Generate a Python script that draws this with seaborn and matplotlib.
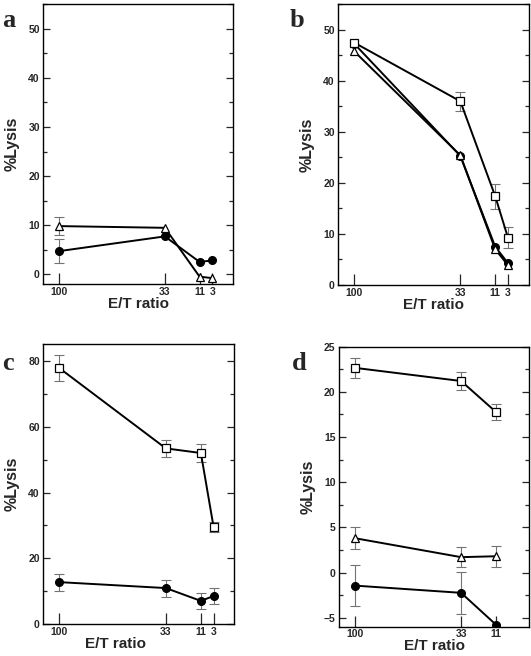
import matplotlib
matplotlib.use("Agg")
import matplotlib.pyplot as plt
import seaborn as sns
import numpy as np
from matplotlib.ticker import MultipleLocator

sns.set_style("ticks")
plt.rcParams["font.family"] = ["Liberation Sans", "DejaVu Sans"]
plt.rcParams["font.weight"] = "bold"

et_ratio = [100, 33, 11, 3]
et_ratio_d = [100, 33, 11]
et_labels = ["100", "33", "11", "3"]

# panel a
a_tri = [9.8, 9.45, -0.5, -0.8]
a_tri_err = [1.9, np.nan, np.nan, np.nan]
a_dot = [4.7, 7.7, 2.5, 2.8]
a_dot_err = [2.4, np.nan, np.nan, np.nan]

# panel b
b_sq = [47.5, 36.0, 17.4, 9.3]
b_sq_err = [np.nan, 1.85, 2.45, 2.0]
b_tri = [45.8, 25.4, 7.0, 3.9]
b_dot = [47.3, 25.3, 7.5, 4.3]

# panel c
c_sq = [77.8, 53.4, 52.0, 29.5]
c_sq_err = [3.9, 2.6, 2.6, 1.5]
c_dot = [12.8, 11.0, 7.1, 8.6]
c_dot_err = [2.55, 2.6, 2.5, 2.5]

# panel d
d_sq = [22.66, 21.2, 17.77]
d_sq_err = [1.08, 1.0, 0.85]
d_tri = [3.8, 1.7, 1.8]
d_tri_err = [1.2, 1.13, 1.17]
d_dot = [-1.45, -2.25, -5.78]
d_dot_err = [2.3, 2.34, np.nan]

W, H = 531, 656
fig = plt.figure(figsize=(W / 100, H / 100), dpi=100)


def make_ax(left, right, top, bottom):
    return fig.add_axes([left / W, (H - bottom) / H, (right - left) / W, (bottom - top) / H])


def draw_series(ax, x, y, marker, filled, err=None, z=3):
    if err is not None:
        ax.errorbar(x, y, yerr=err, fmt="none", ecolor="0.45", elinewidth=0.8,
                    capsize=3.6, capthick=0.8, zorder=1)
    sns.lineplot(x=x, y=y, ax=ax, color="black", linewidth=1.4, marker=marker,
                 markersize=5.4 if marker != "o" else 5.6,
                 markerfacecolor="black" if filled else "white",
                 markeredgecolor="black", markeredgewidth=0.9, zorder=z)


def style_ax(ax, ylim, major, minor, xt, xlabel_x=0.5):
    ax.set_xlim(110, -10)
    ax.set_ylim(*ylim)
    ax.set_xticks(xt)
    ax.set_xticklabels(et_labels[:len(xt)])
    ax.yaxis.set_major_locator(MultipleLocator(major))
    ax.yaxis.set_minor_locator(MultipleLocator(minor))
    ax.tick_params(axis="y", which="both", direction="in", left=True, right=True,
                   labelsize=7.5, pad=2.5, width=0.9)
    ax.tick_params(axis="y", which="major", length=5)
    ax.tick_params(axis="y", which="minor", length=3)
    ax.tick_params(axis="x", direction="in", length=8, width=0.9, labelsize=7.5, pad=2)
    for s in ax.spines.values():
        s.set_visible(True)
        s.set_linewidth(1.0)
        s.set_color("black")
    for lab in ax.get_xticklabels() + ax.get_yticklabels():
        lab.set_fontweight("bold")
    ax.set_xlabel("E/T ratio", fontsize=11, fontweight="bold", labelpad=1)
    ax.xaxis.set_label_coords(xlabel_x, -0.045)
    ax.set_ylabel("%Lysis", fontsize=11.5, fontweight="bold", labelpad=6)
    ax.grid(False)


ax_a = make_ax(43.3, 232.7, 4.3, 284)
draw_series(ax_a, et_ratio, a_tri, "^", False, a_tri_err)
draw_series(ax_a, et_ratio, a_dot, "o", True, a_dot_err)
style_ax(ax_a, (-2, 55), 10, 5, et_ratio)

ax_b = make_ax(338.3, 528.5, 4.3, 285)
draw_series(ax_b, et_ratio, b_dot, "o", True, z=3)
draw_series(ax_b, et_ratio, b_tri, "^", False, z=4)
draw_series(ax_b, et_ratio, b_sq, "s", False, b_sq_err, z=5)
style_ax(ax_b, (0, 55), 10, 5, et_ratio)

ax_c = make_ax(43.3, 234.3, 344.3, 624.3)
draw_series(ax_c, et_ratio, c_sq, "s", False, c_sq_err)
draw_series(ax_c, et_ratio, c_dot, "o", True, c_dot_err)
style_ax(ax_c, (0, 85), 20, 10, et_ratio, xlabel_x=0.38)

ax_d = make_ax(339, 529.3, 346.7, 626.7)
draw_series(ax_d, et_ratio_d, d_sq, "s", False, d_sq_err)
draw_series(ax_d, et_ratio_d, d_tri, "^", False, d_tri_err)
draw_series(ax_d, et_ratio_d, d_dot, "o", True, d_dot_err)
style_ax(ax_d, (-6, 25), 5, 2.5, et_ratio_d)

letter_kw = dict(fontsize=19, fontweight="bold", va="baseline", ha="left",
                 family=["Liberation Serif", "DejaVu Serif"])
fig.text(2 / W, (H - 27) / H, "a", **letter_kw)
fig.text(290 / W, (H - 27) / H, "b", **letter_kw)
fig.text(2 / W, (H - 370) / H, "c", **letter_kw)
fig.text(292 / W, (H - 370) / H, "d", **letter_kw)

fig.savefig("out.png", dpi=100)
